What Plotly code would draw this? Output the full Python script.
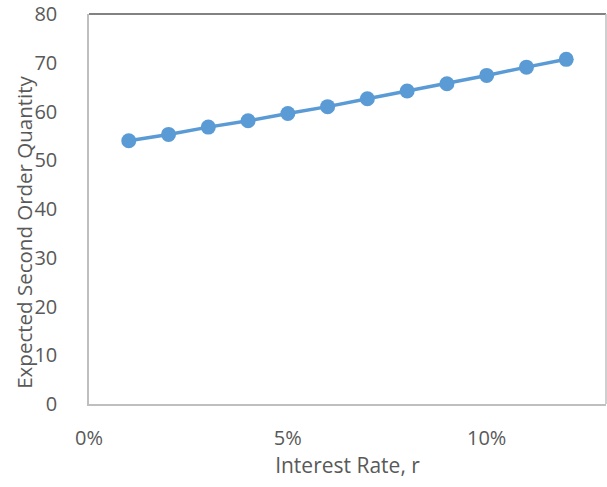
import plotly.graph_objects as go

rates = [0.01, 0.02, 0.03, 0.04, 0.05, 0.06, 0.07, 0.08, 0.09, 0.10, 0.11, 0.12]
quantity = [54.0, 55.3, 56.8, 58.1, 59.6, 61.0, 62.6, 64.2, 65.7, 67.4, 69.1, 70.7]
x_ticks = [0, 0.05, 0.10]
x_tick_labels = ["0%", "5%", "10%"]

FONT = "Open Sans, Noto Sans, sans-serif"
GRAY = "#595959"

fig = go.Figure(go.Scatter(
    x=rates, y=quantity, mode="lines+markers",
    line=dict(color="#5B9BD5", width=3.5),
    marker=dict(color="#5B9BD5", size=15),
    showlegend=False,
))

fig.update_layout(
    width=607, height=487,
    margin=dict(l=89, r=1, t=14, b=83),
    paper_bgcolor="white", plot_bgcolor="white",
    font=dict(family=FONT, color=GRAY),
    xaxis=dict(
        range=[0, 0.13], tickvals=x_ticks, ticktext=x_tick_labels,
        showgrid=False, zeroline=False, showline=True, linecolor="#BFBFBF", linewidth=1.5,
        mirror=False, ticks="", tickfont=dict(size=20, color=GRAY),
        ticklabelstandoff=15,
        title=dict(text="Interest Rate, r", font=dict(size=21, color=GRAY), standoff=8),
    ),
    yaxis=dict(
        range=[0, 80], dtick=10,
        showgrid=False, zeroline=False, showline=True, linecolor="#BFBFBF", linewidth=1.5,
        ticks="", tickfont=dict(size=20, color=GRAY),
        ticklabelstandoff=26,
    ),
    annotations=[
        dict(text="Expected Second Order Quantity", textangle=-90,
             xref="paper", yref="paper", x=0, y=(404 - 233) / 389.5,
             xshift=-65, xanchor="center", yanchor="middle", showarrow=False,
             font=dict(size=20.5, color=GRAY)),
    ],
    shapes=[
        dict(type="line", xref="paper", yref="paper", x0=0, x1=1, y0=1, y1=1,
             line=dict(color="#595959", width=1.5)),
        dict(type="line", xref="paper", yref="paper", x0=1, x1=1, y0=0, y1=1,
             line=dict(color="#BFBFBF", width=1.5)),
    ],
)

fig.write_html("out.html", config={"displayModeBar": False},
               post_script="document.body.style.margin='0';document.body.style.overflow='hidden';")
